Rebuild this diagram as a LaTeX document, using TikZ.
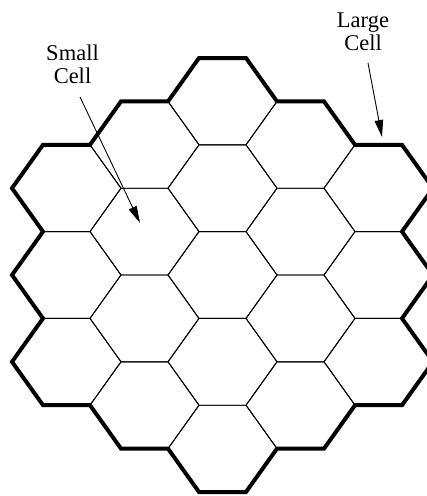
\documentclass[tikz,border=0pt]{standalone}
\usepackage{fontspec}
\setmainfont{Liberation Serif}
\usetikzlibrary{arrows.meta}
\begin{document}
\begin{tikzpicture}[x=1pt,y=-1pt,
  thinhex/.style={line width=0.9pt, line join=miter},
  thickhex/.style={line width=4pt, line join=miter},
  celltext/.style={font=\fontsize{22.5}{23}\selectfont, inner sep=0pt, anchor=base},
  pointer/.style={line width=0.9pt, -{Triangle[length=17pt,width=8.5pt]}}]
\clip (0,0) rectangle (427,496);
% small cells
\foreach \cx/\cy in {66.5/188.2, 66.5/275, 66.5/361.8,
  144.5/144.8, 144.5/231.6, 144.5/318.4, 144.5/405.2,
  222.5/101.4, 222.5/188.2, 222.5/275, 222.5/361.8, 222.5/448.6,
  300.5/144.8, 300.5/231.6, 300.5/318.4, 300.5/405.2,
  378.5/188.2, 378.5/275, 378.5/361.8}
  \draw[thinhex] (\cx-54.5,\cy) -- (\cx-23.5,\cy-43.4) -- (\cx+23.5,\cy-43.4)
    -- (\cx+54.5,\cy) -- (\cx+23.5,\cy+43.4) -- (\cx-23.5,\cy+43.4) -- cycle;
% large cell outline
\draw[thickhex] (12,188.2) -- (43,144.8) -- (90,144.8) -- (121,101.4) -- (168,101.4)
  -- (199,58) -- (246,58) -- (277,101.4) -- (324,101.4) -- (355,144.8) -- (402,144.8)
  -- (433,188.2) -- (402,231.6) -- (433,275) -- (402,318.4) -- (433,361.8) -- (402,405.2)
  -- (355,405.2) -- (324,448.6) -- (277,448.6) -- (246,492) -- (199,492) -- (168,448.6)
  -- (121,448.6) -- (90,405.2) -- (43,405.2) -- (12,361.8) -- (43,318.4) -- (12,275)
  -- (43,231.6) -- cycle;
% labels
\node[celltext] (smallA) at (72.5,60.5) {Small};
\node[celltext] (smallB) at (72.5,83.5) {Cell};
\node[celltext] (largeA) at (363,27) {Large};
\node[celltext] (largeB) at (363,50) {Cell};
% pointers
\coordinate (sStart) at (80,97);
\coordinate (sTip) at (140,223);
\coordinate (lStart) at (368,63);
\coordinate (lTip) at (382,137);
\draw[pointer] (sStart) -- (sTip);
\draw[pointer] (lStart) -- (lTip);
\end{tikzpicture}
\end{document}
